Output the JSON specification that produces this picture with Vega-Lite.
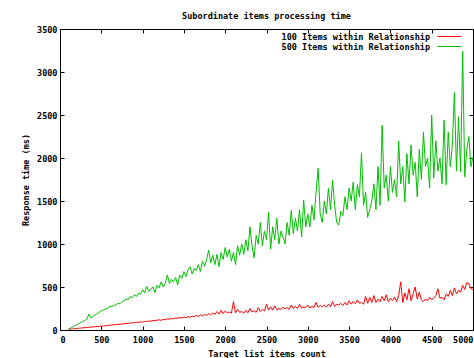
{
"$schema":"https://vega.github.io/schema/vega-lite/v6.json",
"width":413,"height":301,
"autosize":"none",
"padding":{"left":60,"top":29,"right":1,"bottom":28},
"background":"#ffffff",
"config":{"view":{"stroke":"#000000","strokeWidth":1},"axis":{"grid":false,"domain":false,"tickColor":"#000000","tickSize":-4,"labelFont":"DejaVu Sans Mono","labelFontSize":8.5,"labelFontWeight":"bold","labelColor":"#000000","titleFont":"DejaVu Sans Mono","titleFontSize":8.5,"titleFontWeight":"bold","titleColor":"#000000"}},
"title":{"text":"Subordinate items processing time","font":"DejaVu Sans Mono","fontSize":8.5,"fontWeight":"bold","color":"#000000","offset":5},
"data":{"values":[
{"n":100,"a":8,"b":10},{"n":125,"a":10,"b":20},{"n":150,"a":12,"b":32},{"n":175,"a":15,"b":45},{"n":200,"a":18,"b":60},{"n":225,"a":20,"b":72},{"n":250,"a":22,"b":85},{"n":275,"a":25,"b":98},{"n":300,"a":28,"b":110},{"n":325,"a":28,"b":125},{"n":350,"a":32,"b":185},{"n":375,"a":34,"b":140},{"n":400,"a":35,"b":160},{"n":425,"a":38,"b":175},{"n":450,"a":40,"b":190},{"n":475,"a":42,"b":205},
{"n":500,"a":45,"b":225},{"n":525,"a":47,"b":232},{"n":550,"a":50,"b":245},{"n":575,"a":52,"b":250},{"n":600,"a":55,"b":275},{"n":625,"a":58,"b":270},{"n":650,"a":60,"b":285},{"n":675,"a":63,"b":290},{"n":700,"a":65,"b":310},{"n":725,"a":68,"b":305},{"n":750,"a":70,"b":330},{"n":775,"a":72,"b":340},{"n":800,"a":75,"b":360},{"n":825,"a":78,"b":350},{"n":850,"a":80,"b":390},{"n":875,"a":83,"b":375},{"n":900,"a":85,"b":410},{"n":925,"a":88,"b":390},{"n":950,"a":90,"b":430},{"n":975,"a":95,"b":415},
{"n":1000,"a":92,"b":470},{"n":1025,"a":98,"b":430},{"n":1050,"a":100,"b":505},{"n":1075,"a":105,"b":450},{"n":1100,"a":102,"b":470},{"n":1125,"a":110,"b":500},{"n":1150,"a":108,"b":435},{"n":1175,"a":115,"b":520},{"n":1200,"a":118,"b":490},{"n":1225,"a":112,"b":560},{"n":1250,"a":125,"b":500},{"n":1275,"a":120,"b":545},{"n":1300,"a":130,"b":640},{"n":1325,"a":125,"b":540},{"n":1350,"a":135,"b":590},{"n":1375,"a":130,"b":560},{"n":1400,"a":140,"b":610},{"n":1425,"a":135,"b":525},{"n":1450,"a":145,"b":640},{"n":1475,"a":138,"b":600},
{"n":1500,"a":150,"b":680},{"n":1525,"a":145,"b":620},{"n":1550,"a":155,"b":700},{"n":1575,"a":148,"b":735},{"n":1600,"a":160,"b":650},{"n":1625,"a":152,"b":720},{"n":1650,"a":170,"b":690},{"n":1675,"a":158,"b":760},{"n":1700,"a":175,"b":680},{"n":1725,"a":165,"b":800},{"n":1750,"a":180,"b":740},{"n":1775,"a":170,"b":820},{"n":1800,"a":190,"b":930},{"n":1825,"a":175,"b":780},{"n":1850,"a":200,"b":870},{"n":1875,"a":180,"b":760},{"n":1900,"a":215,"b":880},{"n":1925,"a":185,"b":735},{"n":1950,"a":230,"b":900},{"n":1975,"a":190,"b":820},
{"n":2000,"a":220,"b":960},{"n":2025,"a":200,"b":850},{"n":2050,"a":210,"b":940},{"n":2075,"a":195,"b":800},{"n":2100,"a":330,"b":900},{"n":2125,"a":200,"b":760},{"n":2150,"a":240,"b":980},{"n":2175,"a":205,"b":870},{"n":2200,"a":215,"b":1000},{"n":2225,"a":195,"b":880},{"n":2250,"a":230,"b":1050},{"n":2275,"a":200,"b":920},{"n":2300,"a":250,"b":1200},{"n":2325,"a":210,"b":980},{"n":2350,"a":225,"b":840},{"n":2375,"a":205,"b":1100},{"n":2400,"a":260,"b":1000},{"n":2425,"a":215,"b":1250},{"n":2450,"a":240,"b":980},{"n":2475,"a":220,"b":1150},
{"n":2500,"a":300,"b":1050},{"n":2525,"a":230,"b":1370},{"n":2550,"a":270,"b":940},{"n":2575,"a":230,"b":1200},{"n":2600,"a":280,"b":1050},{"n":2625,"a":235,"b":1300},{"n":2650,"a":250,"b":1000},{"n":2675,"a":240,"b":1150},{"n":2700,"a":265,"b":1080},{"n":2725,"a":245,"b":1000},{"n":2750,"a":260,"b":1250},{"n":2775,"a":240,"b":1100},{"n":2800,"a":290,"b":1390},{"n":2825,"a":250,"b":1120},{"n":2850,"a":275,"b":1300},{"n":2875,"a":250,"b":1150},{"n":2900,"a":300,"b":1400},{"n":2925,"a":255,"b":1080},{"n":2950,"a":270,"b":1510},{"n":2975,"a":260,"b":1200},
{"n":3000,"a":290,"b":1350},{"n":3025,"a":255,"b":1200},{"n":3050,"a":275,"b":1450},{"n":3075,"a":260,"b":1280},{"n":3100,"a":320,"b":1600},{"n":3125,"a":265,"b":1880},{"n":3150,"a":285,"b":1350},{"n":3175,"a":270,"b":1250},{"n":3200,"a":290,"b":1500},{"n":3225,"a":265,"b":1350},{"n":3250,"a":300,"b":1650},{"n":3275,"a":270,"b":1400},{"n":3300,"a":330,"b":1740},{"n":3325,"a":275,"b":1450},{"n":3350,"a":300,"b":1250},{"n":3375,"a":290,"b":1220},{"n":3400,"a":310,"b":1380},{"n":3425,"a":285,"b":1330},{"n":3450,"a":320,"b":1550},{"n":3475,"a":290,"b":1400},
{"n":3500,"a":340,"b":1650},{"n":3525,"a":300,"b":1500},{"n":3550,"a":330,"b":1720},{"n":3575,"a":305,"b":1400},{"n":3600,"a":350,"b":1690},{"n":3625,"a":310,"b":1550},{"n":3650,"a":320,"b":2060},{"n":3675,"a":300,"b":1450},{"n":3700,"a":390,"b":1600},{"n":3725,"a":310,"b":1310},{"n":3750,"a":380,"b":1400},{"n":3775,"a":320,"b":1500},{"n":3800,"a":400,"b":1700},{"n":3825,"a":320,"b":1400},{"n":3850,"a":360,"b":1900},{"n":3875,"a":330,"b":1450},{"n":3900,"a":390,"b":2380},{"n":3925,"a":340,"b":1650},{"n":3950,"a":410,"b":1800},{"n":3975,"a":330,"b":1500},
{"n":4000,"a":370,"b":1900},{"n":4025,"a":340,"b":1600},{"n":4050,"a":380,"b":1750},{"n":4075,"a":330,"b":1550},{"n":4100,"a":400,"b":2200},{"n":4125,"a":560,"b":1700},{"n":4150,"a":320,"b":1900},{"n":4175,"a":430,"b":1490},{"n":4200,"a":350,"b":2050},{"n":4225,"a":480,"b":1700},{"n":4250,"a":340,"b":2150},{"n":4275,"a":420,"b":1800},{"n":4300,"a":500,"b":1950},{"n":4325,"a":360,"b":1550},{"n":4350,"a":440,"b":2100},{"n":4375,"a":350,"b":1750},{"n":4400,"a":330,"b":2300},{"n":4425,"a":360,"b":1900},{"n":4450,"a":340,"b":2000},{"n":4475,"a":380,"b":1650},
{"n":4500,"a":350,"b":2500},{"n":4525,"a":370,"b":1770},{"n":4550,"a":400,"b":2200},{"n":4575,"a":480,"b":1850},{"n":4600,"a":370,"b":2000},{"n":4625,"a":380,"b":1700},{"n":4650,"a":350,"b":2440},{"n":4675,"a":420,"b":1690},{"n":4700,"a":390,"b":2300},{"n":4725,"a":460,"b":1900},{"n":4750,"a":400,"b":2150},{"n":4775,"a":490,"b":2760},{"n":4800,"a":420,"b":1850},{"n":4825,"a":460,"b":2480},{"n":4850,"a":440,"b":1840},{"n":4875,"a":520,"b":3240},{"n":4900,"a":470,"b":1780},{"n":4925,"a":550,"b":2100},{"n":4950,"a":540,"b":2250},{"n":4975,"a":480,"b":1900},
{"n":5000,"a":470,"b":2010}
]},
"transform":[{"fold":["a","b"],"as":["series","ms"]}],
"layer":[
{"mark":{"type":"line","strokeWidth":1,"clip":true},
 "encoding":{
  "x":{"field":"n","type":"quantitative","scale":{"domain":[0,5000],"nice":false},"axis":{"orient":"bottom","format":"d","values":[0,500,1000,1500,2000,2500,3000,3500,4000,4500,5000],"title":"Target list items count","labelPadding":9,"titlePadding":6}},
  "y":{"field":"ms","type":"quantitative","scale":{"domain":[0,3500],"nice":false},"axis":{"orient":"left","format":"d","values":[0,500,1000,1500,2000,2500,3000,3500],"title":"Response time (ms)","labelPadding":7,"titlePadding":6}},
  "color":{"field":"series","type":"nominal","scale":{"domain":["a","b"],"range":["#ff0000","#00c000"]},
   "legend":{"orient":"none","legendX":385,"legendY":3,"title":null,"symbolType":"M-3,0H3","symbolSize":64,"symbolStrokeWidth":1,"labelAlign":"right","labelOffset":-24,"labelFont":"DejaVu Sans Mono","labelFontSize":8.5,"labelFontWeight":"bold","labelColor":"#000000","labelLimit":300,"rowPadding":1,"padding":0,"labelExpr":"datum.label == 'a' ? '100 Items within Relationship' : '500 Items within Relationship'",
    "encode":{"symbols":{"update":{"stroke":{"scale":"color","field":"value"},"strokeWidth":{"value":1},"opacity":{"value":1}}}}}}}},
{"mark":{"type":"line","opacity":0},
 "encoding":{
  "x":{"field":"n","type":"quantitative","axis":{"orient":"top","values":[0,500,1000,1500,2000,2500,3000,3500,4000,4500,5000],"labels":false,"title":null}},
  "y":{"field":"ms","type":"quantitative","axis":{"orient":"right","values":[0,500,1000,1500,2000,2500,3000,3500],"labels":false,"title":null}}}}
],
"resolve":{"axis":{"x":"independent","y":"independent"}}
}
